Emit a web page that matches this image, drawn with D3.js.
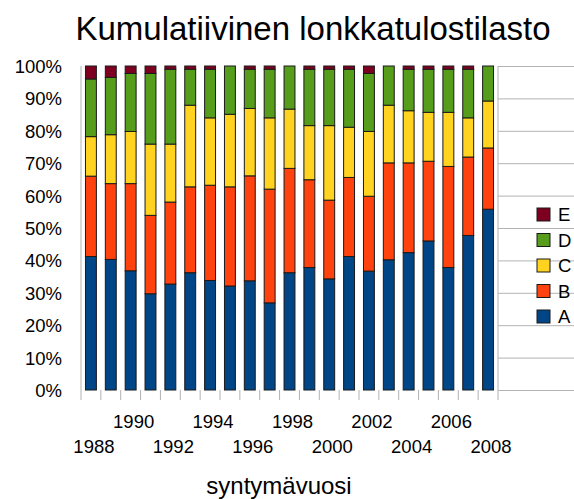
<!DOCTYPE html>
<html>
<head>
<meta charset="utf-8">
<script src="https://d3js.org/d3.v7.min.js"></script>
<style>
  body { margin: 0; background: #fff; }
  * { font-family: "Liberation Sans", Arial, sans-serif; }
  .grid line { stroke: #b3b3b3; }
  .tick-label { font-size: 18.5px; fill: #000; }
</style>
</head>
<body>
<script>
  // data, percent of each year
  var years = [1988, 1989, 1990, 1991, 1992, 1993, 1994, 1995, 1996, 1997, 1998,
               1999, 2000, 2001, 2002, 2003, 2004, 2005, 2006, 2007, 2008];
  var series = ["A", "B", "C", "D", "E"];
  var valuesA = [41.2, 40.3, 36.8, 29.7, 32.7, 36.2, 33.8, 32.1, 33.7, 26.9, 36.2,
                 37.8, 34.3, 41.2, 36.7, 40.2, 42.4, 46.0, 37.8, 47.7, 55.8];
  var valuesB = [24.8, 23.4, 26.9, 24.2, 25.3, 26.5, 29.4, 30.6, 32.4, 35.1, 32.2,
                 27.1, 24.3, 24.4, 23.1, 29.9, 27.7, 24.6, 31.2, 24.2, 18.9];
  var valuesC = [12.2, 15.1, 16.1, 22.0, 17.9, 25.2, 20.8, 22.4, 20.8, 22.0, 18.3,
                 16.7, 23.0, 15.5, 20.0, 17.8, 16.1, 15.1, 16.7, 12.1, 14.5];
  var valuesD = [17.8, 17.7, 17.9, 21.8, 23.1, 11.1, 15.0, 14.9, 12.1, 15.0, 13.3,
                 17.4, 17.4, 17.9, 17.9, 12.1, 12.8, 13.3, 13.3, 15.0, 10.8];
  var valuesE = [4.0, 3.5, 2.3, 2.3, 1.0, 1.0, 1.0, 0.0, 1.0, 1.0, 0.0,
                 1.0, 1.0, 1.0, 2.3, 0.0, 1.0, 1.0, 1.0, 1.0, 0.0];
  var yTicks = [0, 0.1, 0.2, 0.3, 0.4, 0.5, 0.6, 0.7, 0.8, 0.9, 1];
  var colors = ["#004586", "#ff420e", "#ffd320", "#579d1c", "#7e0021"];

  var W = 574, H = 499;
  var margin = {top: 66, right: 76, bottom: 109, left: 81};
  var width = W - margin.left - margin.right,
      height = H - margin.top - margin.bottom;

  var table = years.map(function(y, i) {
    return {year: y, A: valuesA[i], B: valuesB[i], C: valuesC[i], D: valuesD[i], E: valuesE[i]};
  });
  var stacked = d3.stack().keys(series).offset(d3.stackOffsetExpand)(table);

  var svg = d3.select("body").append("svg")
    .attr("width", W).attr("height", H);

  svg.append("text")
    .attr("x", 313).attr("y", 40)
    .attr("text-anchor", "middle")
    .style("font-size", "33px")
    .text("Kumulatiivinen lonkkatulostilasto");

  var g = svg.append("g")
    .attr("transform", "translate(" + margin.left + "," + margin.top + ")");

  var x = d3.scaleBand().domain(years).range([0, width]).paddingInner(0.45).paddingOuter(0.225);
  var xb = d3.scaleLinear().domain([0, years.length]).range([0, width]);
  var y = d3.scaleLinear().domain([0, 1]).range([height, 0]);
  var color = d3.scaleOrdinal().domain(series).range(colors);

  // gridlines + y labels
  var yAxis = g.append("g").attr("class", "grid")
    .call(d3.axisLeft(y).tickValues(yTicks).tickSize(-width - 11).tickFormat(d3.format(".0%")))
    .attr("transform", "translate(" + width + ",0)");
  yAxis.select(".domain").remove();
  yAxis.selectAll("text")
    .attr("class", "tick-label")
    .attr("x", -width - 19)
    .attr("dy", "0.35em");

  g.append("line").attr("x1", 0).attr("x2", 0).attr("y1", 0).attr("y2", height).attr("stroke", "#b3b3b3");
  g.append("line").attr("x1", width).attr("x2", width).attr("y1", 0).attr("y2", height).attr("stroke", "#b3b3b3");

  // x ticks between bars
  g.append("g").selectAll("line")
    .data(d3.range(years.length + 1))
    .enter().append("line")
    .attr("x1", function(d) { return xb(d); })
    .attr("x2", function(d) { return xb(d); })
    .attr("y1", height).attr("y2", height + 10)
    .attr("stroke", "#b3b3b3");

  // bars
  g.selectAll("g.layer")
    .data(stacked)
    .enter().append("g")
    .attr("class", "layer")
    .attr("fill", function(d) { return color(d.key); })
    .selectAll("rect")
    .data(function(d) { return d; })
    .enter().append("rect")
    .attr("x", function(d) { return x(d.data.year); })
    .attr("width", x.bandwidth())
    .attr("y", function(d) { return y(d[1]); })
    .attr("height", function(d) { return y(d[0]) - y(d[1]); })
    .attr("stroke", "#1a1a1a")
    .attr("stroke-width", 1);

  // x labels in two rows
  g.append("g").selectAll("text")
    .data(years.filter(function(d, i) { return i % 2 === 0; }))
    .enter().append("text")
    .attr("class", "tick-label")
    .attr("text-anchor", "middle")
    .attr("x", function(d) { return x(d) + x.bandwidth() / 2 + 3; })
    .attr("y", function(d, i) { return height + (i % 2 === 0 ? 63 : 38); })
    .text(function(d) { return d; });

  svg.append("text")
    .attr("x", 279).attr("y", 494)
    .attr("text-anchor", "middle")
    .style("font-size", "24px")
    .text("syntymävuosi");

  // legend
  var legend = svg.append("g").selectAll("g")
    .data(series.slice().reverse())
    .enter().append("g")
    .attr("transform", function(d, i) { return "translate(537," + (208 + i * 25.5) + ")"; });
  legend.append("rect")
    .attr("width", 13).attr("height", 13)
    .attr("fill", function(d) { return color(d); })
    .attr("stroke", "#1a1a1a");
  legend.append("text")
    .attr("class", "tick-label")
    .attr("x", 21).attr("y", 13)
    .text(function(d) { return d; });
</script>
</body>
</html>
